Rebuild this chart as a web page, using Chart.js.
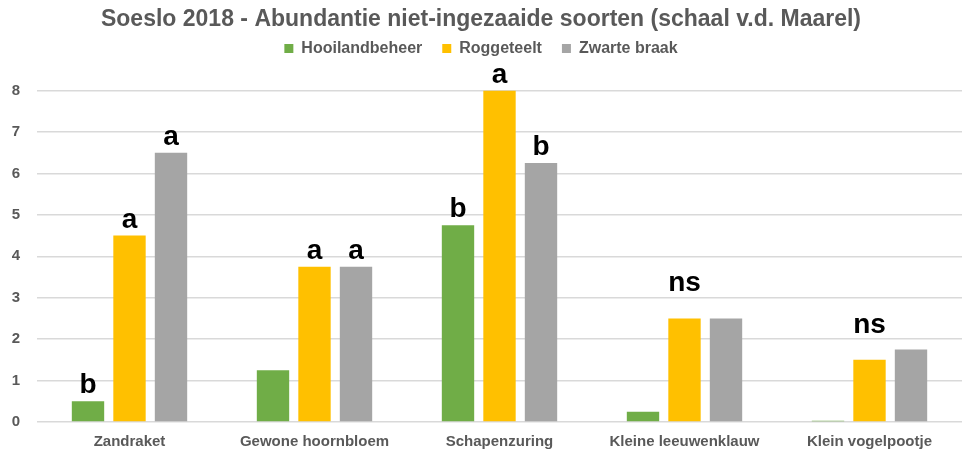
<!DOCTYPE html>
<html>
<head>
<meta charset="utf-8">
<script src="https://cdn.jsdelivr.net/npm/chart.js@4.4.1/dist/chart.umd.min.js"></script>
<style>
  html, body { margin: 0; padding: 0; background: #fff; }
  #wrap { width: 964px; height: 455px; }
</style>
</head>
<body>
<div id="wrap"><canvas id="chart"></canvas></div>
<script>
// Data
const categories = ["Zandraket", "Gewone hoornbloem", "Schapenzuring", "Kleine leeuwenklauw", "Klein vogelpootje"];
const seriesNames = ["Hooilandbeheer", "Roggeteelt", "Zwarte braak"];
const hooiland = [0.5, 1.25, 4.75, 0.25, 0.03];
const rogge = [4.5, 3.75, 8, 2.5, 1.5];
const zwart = [6.5, 3.75, 6.25, 2.5, 1.75];
// significance letters per series
const hooilandLetters = ["b", "", "b", "", ""];
const roggeLetters = ["a", "a", "a", "ns", "ns"];
const zwartLetters = ["a", "a", "b", "", ""];
const colors = ["#70ad47", "#ffc000", "#a5a5a5"];
const textColor = "#595959";
const font = "'Liberation Sans', Arial, sans-serif";

// draws the letters above the bars
const letterPlugin = {
  id: "letters",
  beforeInit(chart) {
    // extra room under the legend
    const legend = chart.legend;
    const fit = legend.fit;
    legend.fit = function () {
      fit.call(this);
      this.height += 24;
    };
  },
  afterDatasetsDraw(chart) {
    const ctx = chart.ctx;
    ctx.save();
    ctx.font = "bold 28px " + font;
    ctx.fillStyle = "#000";
    ctx.textAlign = "center";
    ctx.textBaseline = "alphabetic";
    chart.data.datasets.forEach((ds, i) => {
      const meta = chart.getDatasetMeta(i);
      meta.data.forEach((bar, j) => {
        const txt = ds.letters[j];
        if (!txt) return;
        const offset = txt === "ns" ? 27 : 8;
        ctx.fillText(txt, bar.x, bar.y - offset);
      });
    });
    ctx.restore();
  },
};

new Chart(document.getElementById("chart"), {
  type: "bar",
  data: {
    labels: categories,
    datasets: [
      { label: seriesNames[0], data: hooiland, letters: hooilandLetters, backgroundColor: colors[0] },
      { label: seriesNames[1], data: rogge, letters: roggeLetters, backgroundColor: colors[1] },
      { label: seriesNames[2], data: zwart, letters: zwartLetters, backgroundColor: colors[2] },
    ],
  },
  options: {
    responsive: true,
    maintainAspectRatio: false,
    animation: false,
    categoryPercentage: 0.673,
    barPercentage: 0.78,
    layout: { padding: { left: 0, right: 2, top: 0, bottom: 0 } },
    plugins: {
      title: {
        display: true,
        text: "Soeslo 2018 - Abundantie niet-ingezaaide soorten (schaal v.d. Maarel)",
        color: textColor,
        font: { family: font, size: 23, weight: "bold" },
        padding: { top: 6, bottom: -13 },
      },
      legend: {
        position: "top",
        labels: {
          color: textColor,
          font: { family: font, size: 16, weight: "bold" },
          boxWidth: 9,
          boxHeight: 9,
          padding: 20,
        },
      },
      tooltip: { enabled: false },
    },
    scales: {
      x: {
        grid: { display: false },
        border: { display: false },
        afterFit(scale) {
          scale.height = 33;
        },
        ticks: {
          color: textColor,
          font: { family: font, size: 15, weight: "bold" },
          padding: 3,
        },
      },
      y: {
        min: 0,
        max: 8,
        grid: { color: "#d9d9d9", drawTicks: false, lineWidth: 1.5 },
        border: { display: false },
        afterFit(scale) {
          scale.width = 37;
        },
        ticks: {
          stepSize: 1,
          color: textColor,
          font: { family: font, size: 15, weight: "bold" },
          padding: 17,
        },
      },
    },
  },
  plugins: [letterPlugin],
});
</script>
</body>
</html>
